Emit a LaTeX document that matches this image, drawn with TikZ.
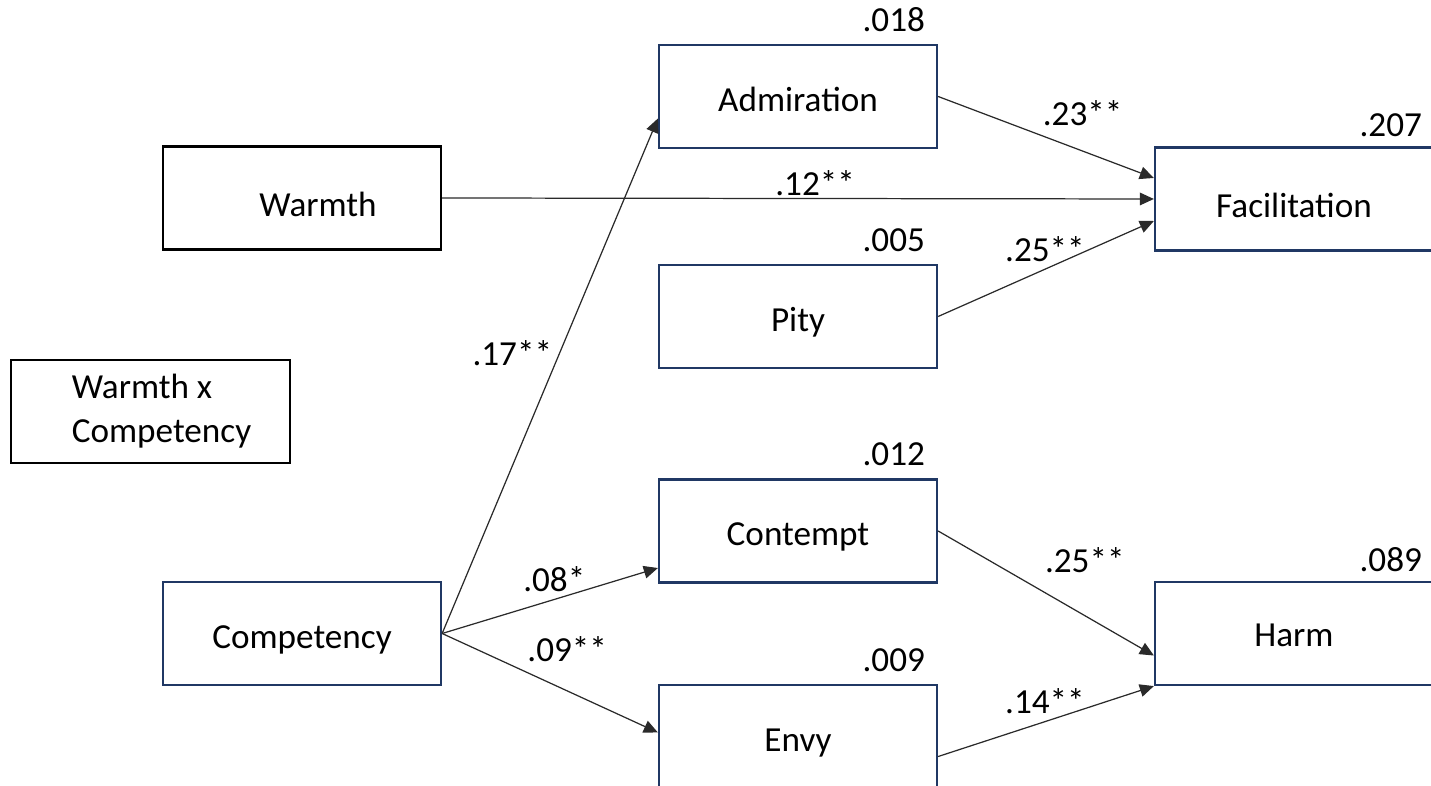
\documentclass[tikz,border=0pt]{standalone}
\usepackage{fontspec}
\setmainfont{Carlito}
\usetikzlibrary{arrows.meta}
\definecolor{boxblue}{HTML}{203864}
\definecolor{linegray}{HTML}{2A2A2A}
\begin{document}
\begin{tikzpicture}[x=0.01cm,y=-0.01cm,
  plainbox/.style={draw=boxblue,line width=0.6pt,minimum width=2.78cm,minimum height=1.03cm,
    inner sep=0pt,font=\fontsize{10}{12.5}\selectfont},
  box/.style={plainbox,text height=9.5pt,text depth=1pt},
  blackbox/.style={box,draw=black},
  rsq/.style={anchor=south east,inner sep=1pt,font=\fontsize{10}{12}\selectfont},
  coef/.style={inner sep=2pt,font=\fontsize{10}{12}\selectfont},
  link/.style={draw=linegray,line width=0.35pt,-{Triangle[length=4pt,width=3.6pt]}}]
  \useasboundingbox (0,0) rectangle (1431,786);
  \clip (0,0) rectangle (1431,786);

  % Predictors
  \node[blackbox,text height=11.5pt] (warmth) at (302,198) {\hspace*{0.32cm}Warmth};
  \node[plainbox,draw=black,align=left] (wxc) at (150.5,411.5)
    {\hspace*{0.22cm}Warmth x\\\hspace*{0.22cm}Competency};
  \node[box] (comp) at (302,633.5) {Competency};

  % Emotions
  \node[box] (adm) at (798,96.5) {Admiration};
  \node[box] (pity) at (798,316.5) {Pity};
  \node[box] (cont) at (798,531) {Contempt};
  \node[box] (envy) at (798,736.5) {Envy};

  % Outcomes
  \node[box,text height=11.5pt] (fac) at (1294,199) {Facilitation};
  \node[box,text height=8.2pt] (harm) at (1294,633.5) {Harm};

  % R squared
  \node[rsq] (adm-r) at ([shift={(-9,-8)}]adm.north east) {.018};
  \node[rsq] (pity-r) at ([shift={(-9,-8)}]pity.north east) {.005};
  \node[rsq] (cont-r) at ([shift={(-9,-8)}]cont.north east) {.012};
  \node[rsq] (envy-r) at ([shift={(-9,-8)}]envy.north east) {.009};
  \node[rsq] (fac-r) at ([shift={(-8,-5)}]fac.north east) {.207};
  \node[rsq] (harm-r) at ([shift={(-8,-5)}]harm.north east) {.089};

  % Paths
  \draw[link] (warmth.east) -- node[coef,pos=0.524,above,inner sep=0.5pt] (wf) {.12**} (fac.west);
  \draw[link] (comp.east) -- node[coef,pos=0.545,left] (ca) {.17**} ([yshift=-0.22cm]adm.west);
  \draw[link] (comp.east) -- node[coef,pos=0.52,above] (cc) {.08*} ([yshift=-0.37cm]cont.west);
  \draw[link] (comp.east) -- node[coef,pos=0.36,above right] (ce) {.09**} ([yshift=0.04cm]envy.west);
  \draw[link] (adm.east) -- node[coef,pos=0.45,above right] (af) {.23**} ([yshift=0.21cm]fac.west);
  \draw[link] (pity.east) -- node[coef,pos=0.495,above] (pf) {.25**} ([yshift=-0.22cm]fac.west);
  \draw[link] (cont.east) -- node[coef,pos=0.46,above right,yshift=0.08cm] (ch) {.25**} ([yshift=-0.22cm]harm.west);
  \draw[link] ([yshift=-0.2cm]envy.east) -- node[coef,pos=0.495,above] (eh) {.14**} (harm.south west);
\end{tikzpicture}
\end{document}
